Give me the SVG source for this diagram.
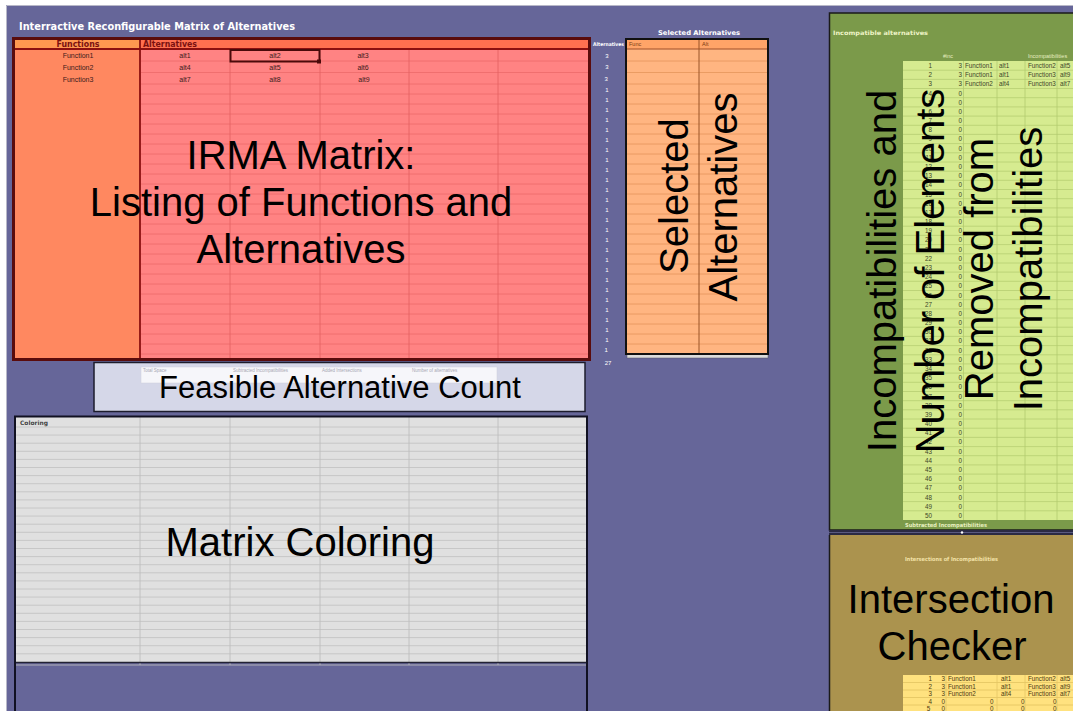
<svg xmlns="http://www.w3.org/2000/svg" width="1073" height="711" viewBox="0 0 1073 711">
<defs>
<style>
.big{font-family:"Liberation Sans",Arial,sans-serif;font-size:40px;fill:#000;text-anchor:middle}
.mid{font-family:"Liberation Sans",Arial,sans-serif;font-size:31px;fill:#000;text-anchor:middle}
.sm{font-family:"Liberation Sans",Arial,sans-serif}
.hd{font-family:"DejaVu Sans",Verdana,sans-serif;font-weight:bold}
.cell{font-family:"Liberation Sans",Arial,sans-serif;font-size:7px;fill:#3c1a1a;text-anchor:middle}
.gt{font-family:"Liberation Sans",Arial,sans-serif;font-size:6.3px;fill:#3d4628}
.yt{font-family:"Liberation Sans",Arial,sans-serif;font-size:6.3px;fill:#4a3a10}
</style>
</defs>

<!-- sheet background -->
<rect width="1073" height="711" fill="#ffffff"/>
<rect x="6" y="5" width="1067" height="706" fill="#666699"/>
<path d="M6.5 711V5.5H1073" fill="none" stroke="#b8b8c8" stroke-width="1"/>

<text x="19" y="30" class="hd" font-size="11" fill="#ffffff" textLength="276" lengthAdjust="spacingAndGlyphs">Interractive Reconfigurable Matrix of Alternatives</text>

<!-- main matrix: functions and their alternatives -->
<g id="irma-matrix">
  <rect x="13" y="38" width="127" height="321" fill="#FF8860"/>
  <rect x="140" y="38" width="449" height="321" fill="#FF8383"/>
  <rect x="13" y="38" width="127" height="11" fill="#FF9850"/>
  <rect x="140" y="38" width="449" height="11" fill="#FF7050"/>
  <path d="M141 61H588M141 72.5H588M141 84H588M141 94H588M141 104H588M141 114H588M141 124H588M141 134H588M141 144H588M141 154H588M141 164H588M141 174H588M141 184H588M141 194H588M141 204H588M141 214H588M141 224H588M141 234H588M141 244H588M141 254H588M141 264H588M141 274H588M141 284H588M141 294H588M141 304H588M141 314H588M141 324H588M141 334H588M141 344H588M141 354H588" stroke="#EC6A6A" stroke-width="0.8"/>
  <path d="M230 49V358M320 49V358M409 49V358M498 49V358" stroke="#E26060" stroke-width="0.8"/>
  <path d="M13 49H589" stroke="#8B1010" stroke-width="1.8"/>
  <path d="M140 38V359" stroke="#8B1010" stroke-width="1.8"/>
  <rect x="13.5" y="38.5" width="576" height="321" fill="none" stroke="#5a0c0c" stroke-width="3"/>
  <text x="78" y="47" class="hd" font-size="8" fill="#7a1010" text-anchor="middle" textLength="43" lengthAdjust="spacingAndGlyphs">Functions</text>
  <text x="143" y="47" class="hd" font-size="8" fill="#7a1010" textLength="54" lengthAdjust="spacingAndGlyphs">Alternatives</text>
  <text class="cell"><tspan x="78" y="58">Function1</tspan><tspan x="78" y="70">Function2</tspan><tspan x="78" y="81.5">Function3</tspan></text>
  <text class="cell">
    <tspan x="185" y="58">alt1</tspan><tspan x="275" y="58">alt2</tspan><tspan x="364" y="58">alt3</tspan>
    <tspan x="185" y="70">alt4</tspan><tspan x="275" y="70">alt5</tspan><tspan x="364" y="70">alt6</tspan>
    <tspan x="185" y="81.5">alt7</tspan><tspan x="275" y="81.5">alt8</tspan><tspan x="364" y="81.5">alt9</tspan>
  </text>
  <!-- active cell -->
  <rect x="230.5" y="50" width="89" height="11.5" fill="none" stroke="#4a0a0a" stroke-width="2"/>
  <rect x="317" y="59.5" width="4" height="4" fill="#4a0a0a"/>
  <text class="big" x="301" y="169">IRMA Matrix:</text>
  <text class="big" x="301" y="216">Listing of Functions and</text>
  <text class="big" x="301" y="263">Alternatives</text>
</g>

<!-- number of alternatives per function -->
<g id="alternative-counts">
  <text x="593" y="46" class="hd" font-size="5" fill="#ffffff" textLength="31" lengthAdjust="spacingAndGlyphs">Alternatives</text>
  <text class="sm" font-size="6" fill="#ffffff" text-anchor="middle">
    <tspan x="607" y="57.5">3</tspan><tspan x="607" y="69.3">3</tspan><tspan x="607" y="80.8">3</tspan>
    <tspan x="607" y="91.5">1</tspan><tspan x="607" y="101.5">1</tspan><tspan x="607" y="111.5">1</tspan><tspan x="607" y="121.5">1</tspan><tspan x="607" y="131.5">1</tspan><tspan x="607" y="141.5">1</tspan><tspan x="607" y="151.5">1</tspan><tspan x="607" y="161.5">1</tspan><tspan x="607" y="171.5">1</tspan><tspan x="607" y="181.5">1</tspan><tspan x="607" y="191.5">1</tspan><tspan x="607" y="201.5">1</tspan><tspan x="607" y="211.5">1</tspan><tspan x="607" y="221.5">1</tspan><tspan x="607" y="231.5">1</tspan><tspan x="607" y="241.5">1</tspan><tspan x="607" y="251.5">1</tspan><tspan x="607" y="261.5">1</tspan><tspan x="607" y="271.5">1</tspan><tspan x="607" y="281.5">1</tspan><tspan x="607" y="291.5">1</tspan><tspan x="607" y="301.5">1</tspan><tspan x="607" y="311.5">1</tspan><tspan x="607" y="321.5">1</tspan><tspan x="607" y="331.5">1</tspan><tspan x="607" y="341.5">1</tspan><tspan x="607" y="351.5">1</tspan>
    <tspan x="608" y="365">27</tspan>
  </text>
</g>

<!-- selected alternatives -->
<g id="selected-alternatives">
  <text x="699" y="35" class="hd" font-size="6.5" fill="#ffffff" text-anchor="middle" textLength="82" lengthAdjust="spacingAndGlyphs">Selected Alternatives</text>
  <rect x="626" y="39" width="142" height="315" fill="#FFB581"/>
  <rect x="626" y="39" width="142" height="10" fill="#FFA468"/>
  <path d="M627 61H767M627 72.5H767M627 84H767M627 94H767M627 104H767M627 114H767M627 124H767M627 134H767M627 144H767M627 154H767M627 164H767M627 174H767M627 184H767M627 194H767M627 204H767M627 214H767M627 224H767M627 234H767M627 244H767M627 254H767M627 264H767M627 274H767M627 284H767M627 294H767M627 304H767M627 314H767M627 324H767M627 334H767M627 344H767" stroke="#E5955C" stroke-width="0.8"/>
  <path d="M626 49H768" stroke="#A0502A" stroke-width="1.2"/>
  <path d="M699 39V358" stroke="#9A5528" stroke-width="1"/>
  <rect x="627" y="354" width="141" height="4" fill="#DCDCDC" stroke="#555566" stroke-width="0.5"/>
  <rect x="626" y="39" width="142" height="315" fill="none" stroke="#111111" stroke-width="2"/>
  <text class="sm" font-size="5.5" fill="#7a3a10"><tspan x="629" y="46">Func</tspan><tspan x="702" y="46">Alt</tspan></text>
  <text class="big" transform="translate(688,196) rotate(-90)">Selected</text>
  <text class="big" transform="translate(737,197) rotate(-90)">Alternatives</text>
</g>

<!-- feasible alternative count -->
<g id="feasible-count">
  <rect x="94" y="362.5" width="491" height="49" fill="#D5D7E8" stroke="#1c1c2c" stroke-width="1.5"/>
  <rect x="141" y="367" width="356" height="16" fill="#F6F6FA" stroke="#cfcfda" stroke-width="0.5"/>
  <text class="sm" font-size="4.5" fill="#a8a8b4">
    <tspan x="143" y="372">Total Space</tspan><tspan x="233" y="372">Subtracted Incompatibilities</tspan><tspan x="322" y="372">Added Intersections</tspan><tspan x="412" y="372">Number of alternatives</tspan>
  </text>
  <text class="mid" x="340" y="398">Feasible Alternative Count</text>
</g>

<!-- matrix coloring -->
<g id="matrix-coloring">
  <rect x="15" y="417" width="572" height="245" fill="#E0E0E0"/>
  <path d="M16 427H586M16 435.1H586M16 443.2H586M16 451.3H586M16 459.4H586M16 467.5H586M16 475.6H586M16 483.7H586M16 491.8H586M16 499.9H586M16 508H586M16 516.1H586M16 524.2H586M16 532.3H586M16 540.4H586M16 548.5H586M16 556.6H586M16 564.7H586M16 572.8H586M16 580.9H586M16 589H586M16 597.1H586M16 605.2H586M16 613.3H586M16 621.4H586M16 629.5H586M16 637.6H586M16 645.7H586M16 653.8H586" stroke="#C4C4C4" stroke-width="0.9"/>
  <path d="M140 417V665M230 417V665M320 417V665M409 417V665M498 417V665" stroke="#BDBDBD" stroke-width="0.9"/>
  <path d="M15 662.5H587" stroke="#222233" stroke-width="1.5"/>
  <path d="M15 665H587" stroke="#B0B0B8" stroke-width="1"/>
  <path d="M15 711V416.5H587V711" fill="none" stroke="#111122" stroke-width="2"/>
  <text x="20" y="424.5" class="hd" font-size="6" fill="#444444" textLength="28" lengthAdjust="spacingAndGlyphs">Coloring</text>
  <text class="big" x="300" y="556">Matrix Coloring</text>
</g>

<!-- incompatibility list -->
<g id="incompatibilities">
  <rect x="829.5" y="13" width="245" height="517" fill="#7B9A4A" stroke="#1a1a1a" stroke-width="1.5"/>
  <text x="833" y="35" class="hd" font-size="6" fill="#EEF4C6" textLength="95" lengthAdjust="spacingAndGlyphs">Incompatible alternatives</text>
  <text class="sm" font-size="5.5" fill="#E6EEC0"><tspan x="943" y="58">#inc</tspan><tspan x="1028" y="58">Incompatibilities</tspan></text>
  <rect x="903" y="61" width="171" height="459" fill="#D6EB90"/>
  <path d="M903 70.2H1073M903 79.4H1073M903 88.5H1073M903 97.7H1073M903 106.9H1073M903 116.1H1073M903 125.3H1073M903 134.4H1073M903 143.6H1073M903 152.8H1073M903 162H1073M903 171.2H1073M903 180.3H1073M903 189.5H1073M903 198.7H1073M903 207.9H1073M903 217.1H1073M903 226.2H1073M903 235.4H1073M903 244.6H1073M903 253.8H1073M903 263H1073M903 272.1H1073M903 281.3H1073M903 290.5H1073M903 299.7H1073M903 308.9H1073M903 318H1073M903 327.2H1073M903 336.4H1073M903 345.6H1073M903 354.8H1073M903 363.9H1073M903 373.1H1073M903 382.3H1073M903 391.5H1073M903 400.7H1073M903 409.8H1073M903 419H1073M903 428.2H1073M903 437.4H1073M903 446.6H1073M903 455.7H1073M903 464.9H1073M903 474.1H1073M903 483.3H1073M903 492.5H1073M903 501.6H1073M903 510.8H1073" stroke="#B6CE72" stroke-width="0.8"/>
  <path d="M963.5 61V520M997 61V520M1025 61V520M1057 61V520" stroke="#B2CA6E" stroke-width="0.8"/>
  <text class="gt" text-anchor="end">
    <tspan x="932" y="68">1</tspan><tspan x="932" y="77.2">2</tspan><tspan x="932" y="86.4">3</tspan><tspan x="932" y="95.5">4</tspan><tspan x="932" y="104.7">5</tspan><tspan x="932" y="113.9">6</tspan><tspan x="932" y="123.1">7</tspan><tspan x="932" y="132.3">8</tspan><tspan x="932" y="141.4">9</tspan><tspan x="932" y="150.6">10</tspan><tspan x="932" y="159.8">11</tspan><tspan x="932" y="169">12</tspan><tspan x="932" y="178.2">13</tspan><tspan x="932" y="187.3">14</tspan><tspan x="932" y="196.5">15</tspan><tspan x="932" y="205.7">16</tspan><tspan x="932" y="214.9">17</tspan><tspan x="932" y="224.1">18</tspan><tspan x="932" y="233.2">19</tspan><tspan x="932" y="242.4">20</tspan><tspan x="932" y="251.6">21</tspan><tspan x="932" y="260.8">22</tspan><tspan x="932" y="270">23</tspan><tspan x="932" y="279.1">24</tspan><tspan x="932" y="288.3">25</tspan><tspan x="932" y="297.5">26</tspan><tspan x="932" y="306.7">27</tspan><tspan x="932" y="315.9">28</tspan><tspan x="932" y="325">29</tspan><tspan x="932" y="334.2">30</tspan><tspan x="932" y="343.4">31</tspan><tspan x="932" y="352.6">32</tspan><tspan x="932" y="361.8">33</tspan><tspan x="932" y="370.9">34</tspan><tspan x="932" y="380.1">35</tspan><tspan x="932" y="389.3">36</tspan><tspan x="932" y="398.5">37</tspan><tspan x="932" y="407.7">38</tspan><tspan x="932" y="416.8">39</tspan><tspan x="932" y="426">40</tspan><tspan x="932" y="435.2">41</tspan><tspan x="932" y="444.4">42</tspan><tspan x="932" y="453.6">43</tspan><tspan x="932" y="462.7">44</tspan><tspan x="932" y="471.9">45</tspan><tspan x="932" y="481.1">46</tspan><tspan x="932" y="490.3">47</tspan><tspan x="932" y="499.5">48</tspan><tspan x="932" y="508.6">49</tspan><tspan x="932" y="517.8">50</tspan>
  </text>
  <text class="gt" text-anchor="end">
    <tspan x="962" y="68">3</tspan><tspan x="962" y="77.2">3</tspan><tspan x="962" y="86.4">3</tspan><tspan x="962" y="95.5">0</tspan><tspan x="962" y="104.7">0</tspan><tspan x="962" y="113.9">0</tspan><tspan x="962" y="123.1">0</tspan><tspan x="962" y="132.3">0</tspan><tspan x="962" y="141.4">0</tspan><tspan x="962" y="150.6">0</tspan><tspan x="962" y="159.8">0</tspan><tspan x="962" y="169">0</tspan><tspan x="962" y="178.2">0</tspan><tspan x="962" y="187.3">0</tspan><tspan x="962" y="196.5">0</tspan><tspan x="962" y="205.7">0</tspan><tspan x="962" y="214.9">0</tspan><tspan x="962" y="224.1">0</tspan><tspan x="962" y="233.2">0</tspan><tspan x="962" y="242.4">0</tspan><tspan x="962" y="251.6">0</tspan><tspan x="962" y="260.8">0</tspan><tspan x="962" y="270">0</tspan><tspan x="962" y="279.1">0</tspan><tspan x="962" y="288.3">0</tspan><tspan x="962" y="297.5">0</tspan><tspan x="962" y="306.7">0</tspan><tspan x="962" y="315.9">0</tspan><tspan x="962" y="325">0</tspan><tspan x="962" y="334.2">0</tspan><tspan x="962" y="343.4">0</tspan><tspan x="962" y="352.6">0</tspan><tspan x="962" y="361.8">0</tspan><tspan x="962" y="370.9">0</tspan><tspan x="962" y="380.1">0</tspan><tspan x="962" y="389.3">0</tspan><tspan x="962" y="398.5">0</tspan><tspan x="962" y="407.7">0</tspan><tspan x="962" y="416.8">0</tspan><tspan x="962" y="426">0</tspan><tspan x="962" y="435.2">0</tspan><tspan x="962" y="444.4">0</tspan><tspan x="962" y="453.6">0</tspan><tspan x="962" y="462.7">0</tspan><tspan x="962" y="471.9">0</tspan><tspan x="962" y="481.1">0</tspan><tspan x="962" y="490.3">0</tspan><tspan x="962" y="499.5">0</tspan><tspan x="962" y="508.6">0</tspan><tspan x="962" y="517.8">0</tspan>
  </text>
  <text class="gt">
    <tspan x="965" y="68">Function1</tspan><tspan x="999" y="68">alt1</tspan><tspan x="1028" y="68">Function2</tspan><tspan x="1060" y="68">alt5</tspan>
    <tspan x="965" y="77.2">Function1</tspan><tspan x="999" y="77.2">alt1</tspan><tspan x="1028" y="77.2">Function3</tspan><tspan x="1060" y="77.2">alt9</tspan>
    <tspan x="965" y="86.4">Function2</tspan><tspan x="999" y="86.4">alt4</tspan><tspan x="1028" y="86.4">Function3</tspan><tspan x="1060" y="86.4">alt7</tspan>
  </text>
  <text x="905" y="527" class="hd" font-size="5.5" fill="#E8F0C0" textLength="82" lengthAdjust="spacingAndGlyphs">Subtracted Incompatibilities</text>
  <text class="big" transform="translate(896,271) rotate(-90)">Incompatibilities and</text>
  <text class="big" transform="translate(944,271) rotate(-90)">Number of Elements</text>
  <text class="big" transform="translate(993,269) rotate(-90)">Removed from</text>
  <text class="big" transform="translate(1042,269) rotate(-90)">Incompatibilities</text>
</g>

<!-- intersection checker -->
<g id="intersection-checker">
  <rect x="829" y="530" width="244" height="5" fill="#2a2a44"/>
  <path d="M829 532.5H1073" stroke="#5a5a80" stroke-width="1"/>
  <circle cx="962" cy="532.5" r="1.2" fill="#ffffff"/>
  <rect x="830" y="535" width="243" height="176" fill="#AB934E"/>
  <text x="905" y="561" class="hd" font-size="5.5" fill="#F2E2A8" textLength="93" lengthAdjust="spacingAndGlyphs">Intersections of Incompatibilities</text>
  <rect x="903" y="675" width="170" height="36" fill="#FFE27F"/>
  <path d="M903 682.5H1073M903 690H1073M903 697.5H1073M903 705H1073" stroke="#E2C461" stroke-width="0.8"/>
  <path d="M946 675V711M997 675V711M1025 675V711M1057 675V711" stroke="#E5C766" stroke-width="0.8"/>
  <text class="yt" text-anchor="end">
    <tspan x="932" y="681">1</tspan><tspan x="932" y="688.5">2</tspan><tspan x="932" y="696">3</tspan><tspan x="932" y="703.5">4</tspan><tspan x="932" y="711">5</tspan>
    <tspan x="945" y="681">3</tspan><tspan x="945" y="688.5">3</tspan><tspan x="945" y="696">3</tspan><tspan x="945" y="703.5">0</tspan><tspan x="945" y="711">0</tspan>
  </text>
  <text class="yt">
    <tspan x="948" y="681">Function1</tspan><tspan x="1001" y="681">alt1</tspan><tspan x="1028" y="681">Function2</tspan><tspan x="1060" y="681">alt5</tspan>
    <tspan x="948" y="688.5">Function1</tspan><tspan x="1001" y="688.5">alt1</tspan><tspan x="1028" y="688.5">Function3</tspan><tspan x="1060" y="688.5">alt9</tspan>
    <tspan x="948" y="696">Function2</tspan><tspan x="1001" y="696">alt4</tspan><tspan x="1028" y="696">Function3</tspan><tspan x="1060" y="696">alt7</tspan>
    <tspan x="990" y="703.5">0</tspan><tspan x="1021" y="703.5">0</tspan><tspan x="1053" y="703.5">0</tspan>
    <tspan x="990" y="711">0</tspan><tspan x="1021" y="711">0</tspan><tspan x="1053" y="711">0</tspan>
  </text>
  <path d="M829.5 535V711" stroke="#1a1a1a" stroke-width="1.5"/>
  <text class="big" x="951" y="613">Intersection</text>
  <text class="big" x="952" y="660">Checker</text>
</g>
</svg>
